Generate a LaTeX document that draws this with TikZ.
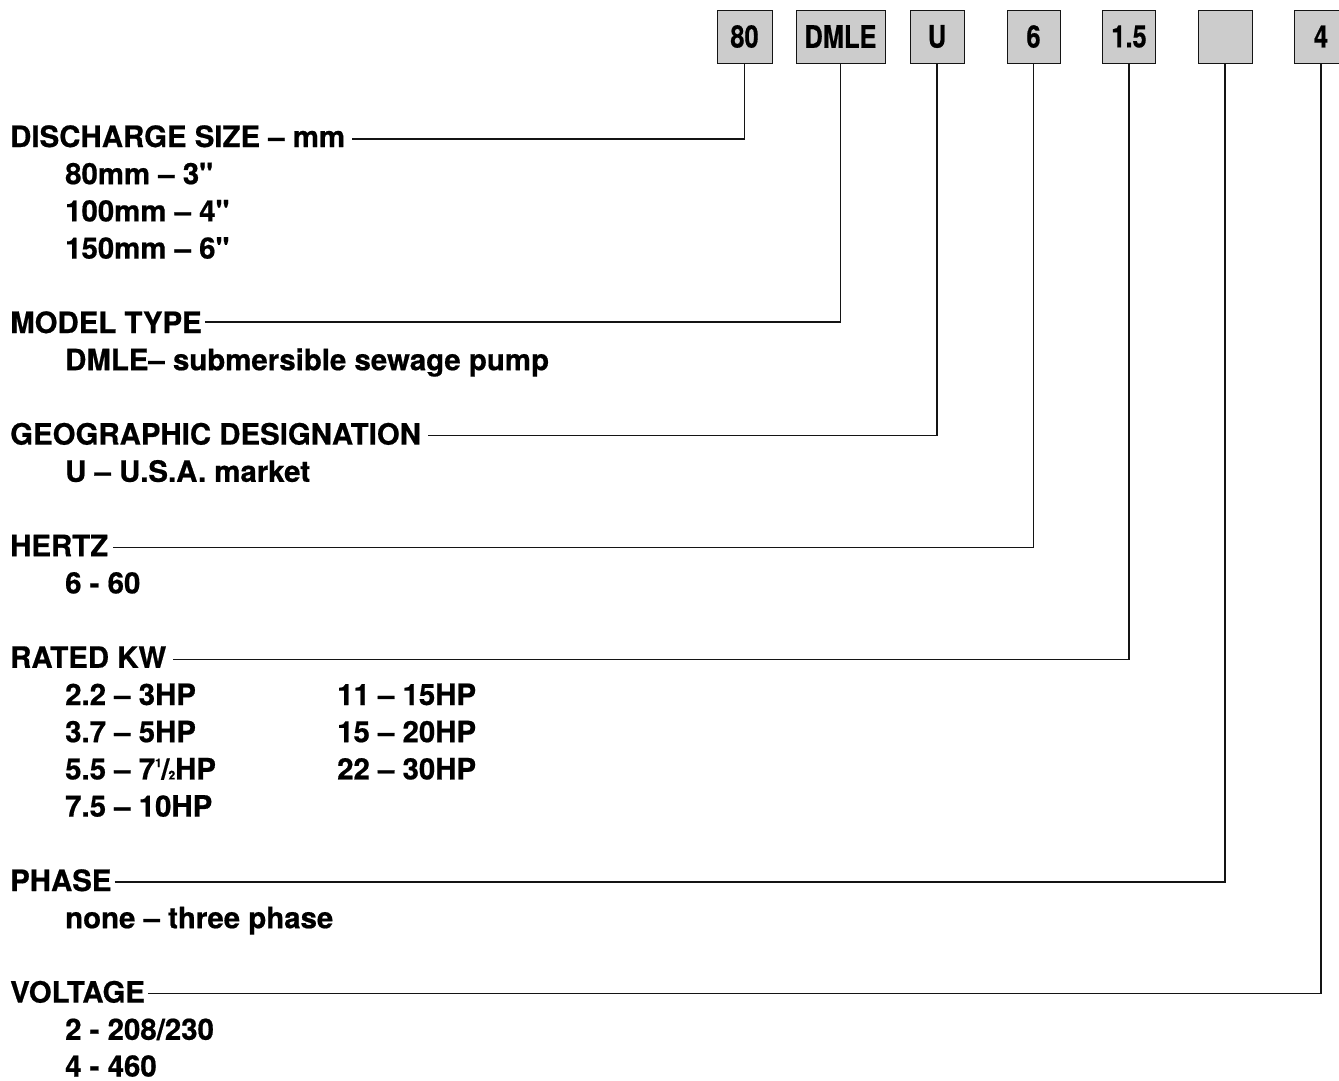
\documentclass[tikz,border=0pt]{standalone}
\usepackage{fontspec}
\setmainfont{TeX Gyre Heros}[BoldFeatures={FakeBold=0.6}]
\definecolor{boxgray}{RGB}{204,204,204}
\definecolor{ink}{RGB}{20,20,20}

\tikzset{
  codebox/.style={draw=ink, line width=1pt, fill=boxgray, inner sep=0pt,
    minimum height=53pt, font=\fontsize{31}{31}\selectfont\bfseries},
  head/.style={anchor=base west, inner sep=0pt, font=\fontsize{29.4}{35}\selectfont\bfseries},
  item/.style={head},
  lead/.style={draw=ink, line width=1.1pt}
}

\begin{document}
\begin{tikzpicture}[x=1pt, y=-1pt]
  \useasboundingbox (0,0) rectangle (1339,1080);

  % cases
  \foreach \nom/\x/\w/\t in {b80/744.5/55/80, bdmle/840.5/89/DMLE, bu/937/54/U,
      bhz/1033.5/53/6, bkw/1129/53/1.5, bph/1225/54/{}, bvolt/1321/54/4} {
    \node[codebox, minimum width=\w pt] (\nom) at (\x,36.5) {\scalebox{0.82}[1]{\t}};
  }

  % rubriques
  \node[head] (hsize)  at (10,147)    {DISCHARGE SIZE -- mm};
  \node[item] (s80)    at (65,184.2)  {80mm -- 3\textquotedbl};
  \node[item] (s100)   at (65,221.4)  {100mm -- 4\textquotedbl};
  \node[item] (s150)   at (65,258.6)  {150mm -- 6\textquotedbl};

  \node[head] (hmodel) at (10,333)    {MODEL TYPE};
  \node[item] (mdmle)  at (65,370.2)  {DMLE-- submersible sewage pump};

  \node[head] (hgeo)   at (10,444.6)  {GEOGRAPHIC DESIGNATION};
  \node[item] (gusa)   at (65,481.8)  {U -- U.S.A. market};

  \node[head] (hhz)    at (10,556.2)  {HERTZ};
  \node[item] (z60)    at (65,593.4)  {6 - 60};

  \node[head] (hkw)    at (10,667.8)  {RATED KW};
  \node[item] (k22)    at (65,705)    {2.2 -- 3HP};
  \node[item] (k37)    at (65,742.2)  {3.7 -- 5HP};
  \node[item] (k55)    at (65,779.4)  {5.5 -- 7\raisebox{0.42em}{\fontsize{12}{12}\selectfont 1}\kern-0.5pt/\kern-1pt{\fontsize{12}{12}\selectfont 2}HP};
  \node[item] (k75)    at (65,816.6)  {7.5 -- 10HP};
  \node[item] (k11)    at (337,705)   {11 -- 15HP};
  \node[item] (k15)    at (337,742.2) {15 -- 20HP};
  \node[item] (k22b)   at (337,779.4) {22 -- 30HP};

  \node[head] (hph)    at (10,891)    {PHASE};
  \node[item] (pnone)  at (65,928.2)  {none -- three phase};

  \node[head] (hvolt)  at (10,1002.6) {VOLTAGE};
  \node[item] (v2)     at (65,1039.8) {2 - 208/230};
  \node[item] (v4)     at (65,1076.5) {4 - 460};

  % traits
  \draw[lead] ([shift={(7pt,8pt)}]hsize.base east)  -| (b80.south);
  \draw[lead] ([shift={(3pt,11pt)}]hmodel.base east) -| (bdmle.south);
  \draw[lead] ([shift={(7pt,9pt)}]hgeo.base east)   -| (bu.south);
  \draw[lead] ([shift={(5pt,9pt)}]hhz.base east)    -| (bhz.south);
  \draw[lead] ([shift={(7pt,8pt)}]hkw.base east)    -| (bkw.south);
  \draw[lead] ([shift={(3pt,9pt)}]hph.base east)    -| (bph.south);
  \draw[lead] ([shift={(3pt,9pt)}]hvolt.base east)  -| (bvolt.south);
\end{tikzpicture}
\end{document}
